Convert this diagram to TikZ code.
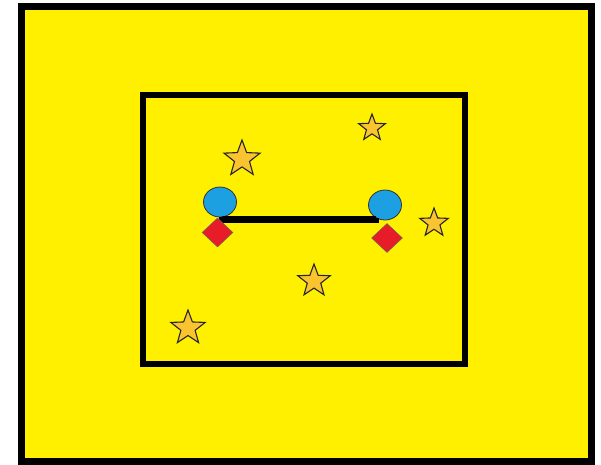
\documentclass[tikz,border=0pt]{standalone}
\usetikzlibrary{shapes.geometric}
\definecolor{bgyellow}{RGB}{255,240,0}
\definecolor{stargold}{RGB}{250,196,48}
\definecolor{ballblue}{RGB}{28,160,226}
\definecolor{conered}{RGB}{232,28,40}
\tikzset{
  field/.style={draw=black,fill=bgyellow,line width=7pt},
  area/.style={draw=black,line width=6pt},
  starmark/.style={shape=star,star points=5,star point ratio=2.4,draw=black!85,line width=1.1pt,fill=stargold,inner sep=0pt,outer sep=0pt},
  ball/.style={shape=ellipse,draw=black!80,line width=0.8pt,fill=ballblue,inner sep=0pt,minimum width=33pt,minimum height=30pt},
  cone/.style={shape=diamond,draw=black!60,line width=0.5pt,fill=conered,inner sep=0pt,minimum width=31pt,minimum height=29pt},
  link/.style={draw=black,line width=6.5pt}
}
\begin{document}
\begin{tikzpicture}[x=1pt,y=-1pt]
\useasboundingbox[fill=white] (0,0) rectangle (601,464);
\draw[field] (21,6.5) rectangle (591,461);
\draw[area] (143,95) rectangle (465,363.5);
\node[starmark,minimum size=38pt] (s1) at (242,159) {};
\node[starmark,minimum size=28pt] (s2) at (372,128) {};
\node[starmark,minimum size=30pt] (s3) at (434,223) {};
\node[starmark,minimum size=34pt] (s4) at (314,281) {};
\node[starmark,minimum size=36pt] (s5) at (188,328) {};
\node[ball] (b1) at (220,202) {};
\node[ball] (b2) at (385,205) {};
\draw[link] (b1.-80) |- (b2.235 |- 0,219.5) -- (b2.235);
\node[cone] (d1) at (217.5,232.5) {};
\node[cone] (d2) at (387,238) {};
\end{tikzpicture}
\end{document}
